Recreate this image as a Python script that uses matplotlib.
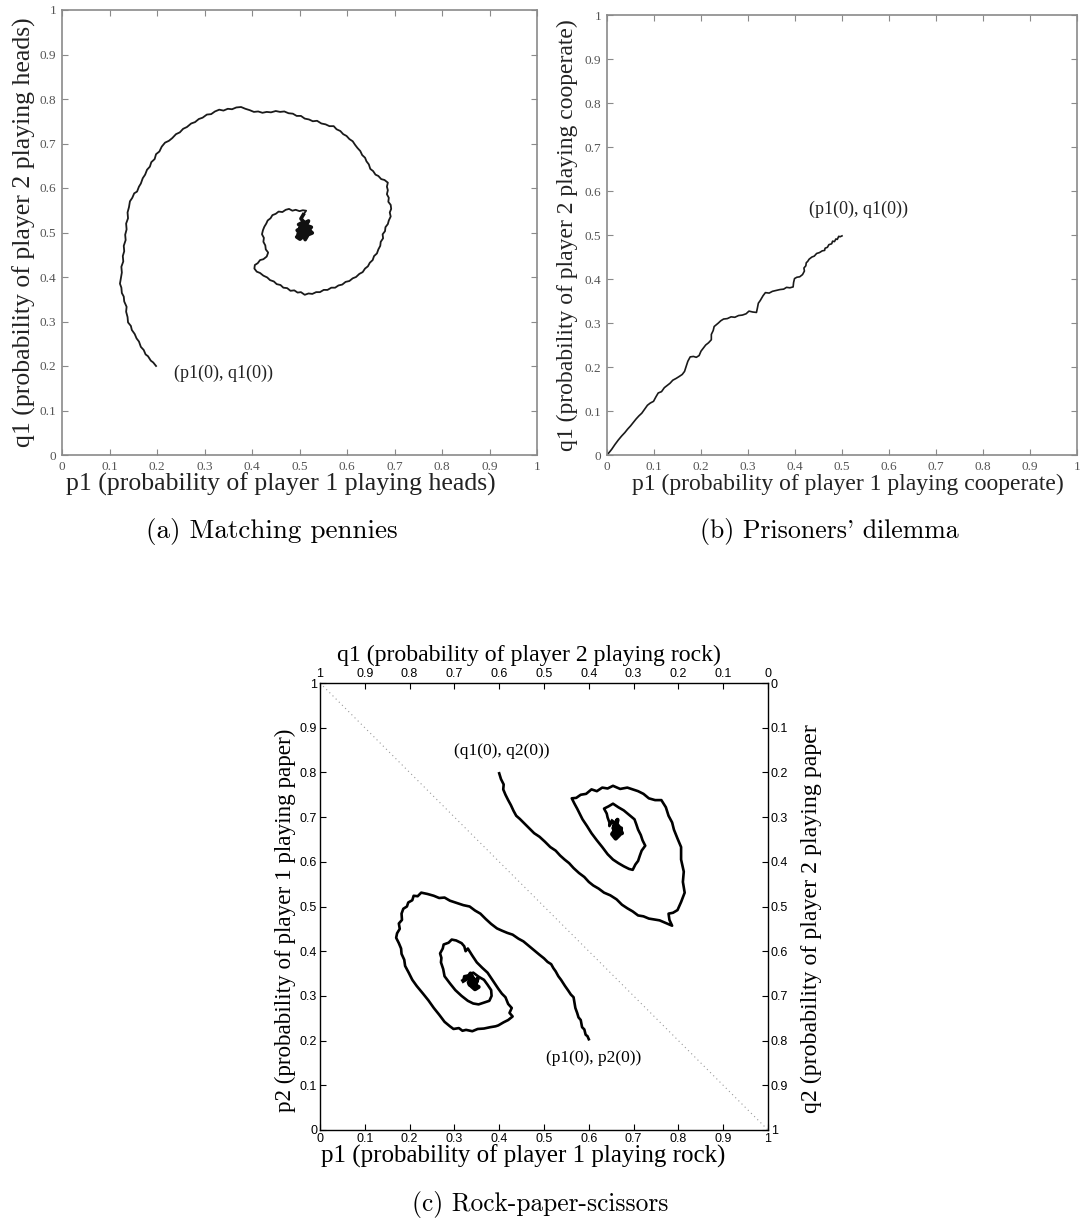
import matplotlib
matplotlib.use("Agg")
import matplotlib.pyplot as plt

# ---------------- data ----------------
# (a) Matching pennies trajectory (p1, q1)
mp_p1 = [0.198, 0.192, 0.187, 0.181, 0.176, 0.172, 0.166, 0.162, 0.157, 0.153, 0.147, 0.145, 0.139,
         0.138, 0.135, 0.136, 0.131, 0.130, 0.126, 0.125, 0.122, 0.124, 0.126, 0.125, 0.129, 0.128,
         0.131, 0.130, 0.134, 0.133, 0.136, 0.135, 0.139, 0.138, 0.141, 0.143, 0.148, 0.152, 0.158,
         0.162, 0.166, 0.170, 0.175, 0.179, 0.185, 0.188, 0.195, 0.198, 0.205, 0.210, 0.217, 0.225,
         0.232, 0.240, 0.248, 0.255, 0.263, 0.272, 0.280, 0.288, 0.296, 0.305, 0.314, 0.322, 0.331,
         0.340, 0.349, 0.358, 0.367, 0.377, 0.386, 0.395, 0.404, 0.413, 0.422, 0.431, 0.440, 0.450,
         0.459, 0.468, 0.477, 0.486, 0.494, 0.503, 0.511, 0.520, 0.528, 0.537, 0.546, 0.555, 0.563,
         0.572, 0.578, 0.586, 0.592, 0.599, 0.605, 0.612, 0.617, 0.622, 0.628, 0.632, 0.638, 0.641,
         0.646, 0.649, 0.655, 0.660, 0.666, 0.672, 0.679, 0.686, 0.684, 0.686, 0.684, 0.688, 0.687,
         0.692, 0.693, 0.690, 0.692, 0.688, 0.686, 0.681, 0.680, 0.675, 0.676, 0.671, 0.670, 0.666,
         0.663, 0.657, 0.654, 0.648, 0.644, 0.638, 0.633, 0.626, 0.619, 0.612, 0.605, 0.597, 0.590,
         0.582, 0.575, 0.567, 0.559, 0.551, 0.543, 0.535, 0.527, 0.519, 0.511, 0.503, 0.496, 0.489,
         0.481, 0.474, 0.466, 0.460, 0.452, 0.446, 0.438, 0.432, 0.424, 0.417, 0.410, 0.405, 0.406,
         0.412, 0.417, 0.424, 0.431, 0.434, 0.429, 0.428, 0.424, 0.425, 0.421, 0.423, 0.426, 0.430,
         0.433, 0.439, 0.443, 0.450, 0.456, 0.464, 0.471, 0.478, 0.485, 0.492, 0.500, 0.507, 0.514,
         0.508, 0.503, 0.509, 0.498, 0.507, 0.495, 0.503, 0.494, 0.501, 0.509, 0.512, 0.518, 0.527,
         0.520, 0.525, 0.514, 0.519, 0.510, 0.504, 0.515, 0.508, 0.499, 0.510, 0.517, 0.506, 0.497,
         0.504, 0.512, 0.522, 0.511, 0.502, 0.509]
mp_q1 = [0.200, 0.208, 0.212, 0.222, 0.226, 0.236, 0.243, 0.255, 0.262, 0.272, 0.281, 0.290, 0.298,
         0.310, 0.322, 0.333, 0.345, 0.356, 0.364, 0.376, 0.385, 0.397, 0.410, 0.423, 0.435, 0.447,
         0.458, 0.470, 0.483, 0.495, 0.507, 0.520, 0.532, 0.545, 0.557, 0.570, 0.578, 0.588, 0.592,
         0.603, 0.610, 0.622, 0.630, 0.641, 0.648, 0.658, 0.665, 0.676, 0.682, 0.693, 0.702, 0.706,
         0.712, 0.721, 0.725, 0.733, 0.737, 0.745, 0.748, 0.755, 0.758, 0.765, 0.766, 0.772, 0.776,
         0.774, 0.778, 0.777, 0.781, 0.782, 0.778, 0.775, 0.771, 0.772, 0.769, 0.771, 0.770, 0.773,
         0.771, 0.772, 0.768, 0.767, 0.762, 0.762, 0.756, 0.754, 0.750, 0.751, 0.745, 0.743, 0.739,
         0.739, 0.732, 0.728, 0.721, 0.717, 0.710, 0.705, 0.697, 0.690, 0.683, 0.674, 0.668, 0.660,
         0.653, 0.643, 0.638, 0.630, 0.627, 0.620, 0.618, 0.612, 0.603, 0.595, 0.586, 0.578, 0.569,
         0.562, 0.553, 0.545, 0.536, 0.527, 0.519, 0.512, 0.503, 0.496, 0.487, 0.479, 0.470, 0.462,
         0.453, 0.447, 0.438, 0.432, 0.424, 0.419, 0.411, 0.407, 0.400, 0.397, 0.391, 0.389, 0.383,
         0.381, 0.376, 0.376, 0.371, 0.371, 0.366, 0.366, 0.362, 0.363, 0.360, 0.366, 0.365, 0.370,
         0.369, 0.375, 0.376, 0.382, 0.384, 0.390, 0.393, 0.399, 0.403, 0.409, 0.412, 0.419, 0.427,
         0.431, 0.438, 0.440, 0.446, 0.455, 0.462, 0.471, 0.479, 0.488, 0.496, 0.505, 0.513, 0.520,
         0.527, 0.532, 0.539, 0.542, 0.547, 0.546, 0.551, 0.553, 0.549, 0.551, 0.548, 0.550, 0.549,
         0.540, 0.531, 0.524, 0.518, 0.512, 0.505, 0.497, 0.490, 0.485, 0.492, 0.484, 0.495, 0.499,
         0.506, 0.512, 0.516, 0.526, 0.521, 0.510, 0.503, 0.497, 0.500, 0.508, 0.500, 0.490, 0.496,
         0.518, 0.512, 0.503, 0.495, 0.503, 0.505]

# (b) Prisoners' dilemma trajectory (p1, q1)
pd_p1 = [0.500, 0.496, 0.493, 0.490, 0.487, 0.484, 0.480, 0.478, 0.472, 0.469, 0.464, 0.463, 0.458,
         0.452, 0.446, 0.441, 0.436, 0.430, 0.427, 0.424, 0.423, 0.419, 0.420, 0.416, 0.410, 0.404,
         0.399, 0.397, 0.396, 0.389, 0.382, 0.376, 0.368, 0.360, 0.352, 0.345, 0.337, 0.332, 0.326,
         0.322, 0.320, 0.318, 0.310, 0.302, 0.296, 0.288, 0.280, 0.272, 0.264, 0.256, 0.248, 0.242,
         0.237, 0.228, 0.226, 0.222, 0.222, 0.216, 0.210, 0.205, 0.200, 0.196, 0.190, 0.184, 0.177,
         0.172, 0.168, 0.165, 0.160, 0.153, 0.147, 0.140, 0.134, 0.128, 0.122, 0.116, 0.109, 0.104,
         0.099, 0.092, 0.086, 0.080, 0.074, 0.068, 0.062, 0.056, 0.050, 0.044, 0.038, 0.031, 0.024,
         0.017, 0.010, 0.004, 0.000]
pd_q1 = [0.498, 0.496, 0.497, 0.490, 0.491, 0.485, 0.486, 0.480, 0.478, 0.472, 0.470, 0.465, 0.464,
         0.460, 0.458, 0.452, 0.450, 0.445, 0.440, 0.437, 0.430, 0.425, 0.418, 0.410, 0.405, 0.404,
         0.401, 0.392, 0.382, 0.380, 0.381, 0.377, 0.376, 0.374, 0.372, 0.368, 0.369, 0.362, 0.351,
         0.345, 0.334, 0.324, 0.325, 0.327, 0.321, 0.318, 0.317, 0.313, 0.314, 0.310, 0.309, 0.305,
         0.300, 0.292, 0.283, 0.274, 0.262, 0.255, 0.250, 0.243, 0.236, 0.226, 0.222, 0.224, 0.223,
         0.213, 0.200, 0.190, 0.183, 0.178, 0.174, 0.170, 0.163, 0.158, 0.153, 0.144, 0.141, 0.132,
         0.122, 0.118, 0.113, 0.104, 0.095, 0.089, 0.082, 0.074, 0.066, 0.059, 0.051, 0.043, 0.034,
         0.024, 0.013, 0.005, 0.000]

# (c) Rock-paper-scissors, player 1 trajectory (p1, p2)
rps_p1 = [0.600, 0.597, 0.593, 0.590, 0.585, 0.582, 0.577, 0.574, 0.570, 0.568, 0.566, 0.560, 0.554,
          0.547, 0.538, 0.532, 0.526, 0.521, 0.516, 0.508, 0.500, 0.490, 0.478, 0.466, 0.454, 0.443,
          0.430, 0.418, 0.406, 0.395, 0.382, 0.370, 0.358, 0.346, 0.334, 0.320, 0.302, 0.290, 0.278,
          0.266, 0.254, 0.240, 0.226, 0.218, 0.209, 0.206, 0.197, 0.194, 0.186, 0.182, 0.183, 0.176,
          0.178, 0.172, 0.170, 0.176, 0.181, 0.182, 0.188, 0.190, 0.198, 0.206, 0.216, 0.230, 0.242,
          0.254, 0.266, 0.278, 0.290, 0.298, 0.310, 0.318, 0.326, 0.340, 0.352, 0.366, 0.380, 0.392,
          0.398, 0.410, 0.420, 0.430, 0.423, 0.428, 0.420, 0.414, 0.406, 0.398, 0.390, 0.382, 0.374,
          0.362, 0.350, 0.340, 0.330, 0.325, 0.322, 0.316, 0.304, 0.294, 0.287, 0.276, 0.274, 0.268,
          0.271, 0.270, 0.275, 0.278, 0.290, 0.302, 0.316, 0.330, 0.342, 0.354, 0.366, 0.378, 0.383,
          0.382, 0.374, 0.366, 0.354, 0.342, 0.332, 0.322, 0.320, 0.330, 0.336, 0.342, 0.350, 0.344,
          0.354, 0.346, 0.338, 0.332, 0.340, 0.348, 0.338, 0.334, 0.344, 0.352, 0.340]
rps_p2 = [0.203, 0.210, 0.213, 0.225, 0.230, 0.246, 0.252, 0.262, 0.273, 0.285, 0.297, 0.303, 0.312,
          0.322, 0.336, 0.344, 0.355, 0.362, 0.371, 0.376, 0.384, 0.392, 0.402, 0.412, 0.422, 0.428,
          0.437, 0.441, 0.446, 0.451, 0.461, 0.472, 0.484, 0.491, 0.500, 0.503, 0.509, 0.513, 0.520,
          0.519, 0.524, 0.528, 0.531, 0.523, 0.524, 0.514, 0.509, 0.500, 0.495, 0.484, 0.470, 0.462,
          0.450, 0.440, 0.430, 0.418, 0.406, 0.394, 0.381, 0.367, 0.352, 0.336, 0.322, 0.305, 0.290,
          0.273, 0.258, 0.242, 0.232, 0.226, 0.228, 0.222, 0.224, 0.221, 0.226, 0.227, 0.230, 0.232,
          0.234, 0.241, 0.246, 0.254, 0.262, 0.273, 0.282, 0.297, 0.305, 0.316, 0.328, 0.340, 0.352,
          0.363, 0.375, 0.390, 0.406, 0.400, 0.411, 0.418, 0.424, 0.426, 0.419, 0.415, 0.406, 0.395,
          0.385, 0.375, 0.360, 0.344, 0.328, 0.313, 0.300, 0.289, 0.283, 0.281, 0.285, 0.289, 0.300,
          0.313, 0.325, 0.336, 0.343, 0.352, 0.346, 0.344, 0.334, 0.340, 0.350, 0.338, 0.332, 0.325,
          0.320, 0.315, 0.322, 0.330, 0.335, 0.327, 0.342, 0.325, 0.330, 0.338, 0.328]

# (c) Rock-paper-scissors, player 2 trajectory (q1, q2)
rps_q1 = [0.600, 0.596, 0.590, 0.591, 0.586, 0.580, 0.574, 0.568, 0.562, 0.554, 0.546, 0.534, 0.522,
          0.510, 0.498, 0.486, 0.474, 0.464, 0.454, 0.444, 0.434, 0.422, 0.410, 0.400, 0.390, 0.378,
          0.366, 0.352, 0.338, 0.326, 0.314, 0.302, 0.290, 0.278, 0.266, 0.254, 0.242, 0.228, 0.214,
          0.220, 0.222, 0.212, 0.202, 0.194, 0.186, 0.190, 0.188, 0.194, 0.194, 0.202, 0.210, 0.214,
          0.222, 0.228, 0.238, 0.252, 0.266, 0.278, 0.290, 0.302, 0.314, 0.330, 0.346, 0.358, 0.370,
          0.382, 0.394, 0.406, 0.418, 0.428, 0.438, 0.432, 0.426, 0.420, 0.414, 0.404, 0.394, 0.382,
          0.370, 0.358, 0.346, 0.334, 0.322, 0.310, 0.302, 0.296, 0.290, 0.286, 0.282, 0.274, 0.280,
          0.284, 0.290, 0.294, 0.298, 0.310, 0.322, 0.334, 0.346, 0.356, 0.366, 0.360, 0.358, 0.354,
          0.354, 0.348, 0.340, 0.345, 0.335, 0.328, 0.332, 0.340, 0.348, 0.342, 0.334, 0.326, 0.338,
          0.344, 0.336, 0.340]
rps_q2 = [0.202, 0.215, 0.227, 0.238, 0.250, 0.262, 0.273, 0.286, 0.297, 0.304, 0.312, 0.324, 0.336,
          0.344, 0.355, 0.367, 0.375, 0.386, 0.395, 0.403, 0.414, 0.425, 0.434, 0.445, 0.453, 0.460,
          0.469, 0.475, 0.484, 0.496, 0.504, 0.511, 0.520, 0.522, 0.527, 0.529, 0.531, 0.537, 0.543,
          0.530, 0.516, 0.514, 0.508, 0.490, 0.469, 0.445, 0.422, 0.395, 0.367, 0.348, 0.328, 0.312,
          0.297, 0.278, 0.262, 0.262, 0.258, 0.248, 0.242, 0.238, 0.234, 0.237, 0.230, 0.236, 0.234,
          0.242, 0.238, 0.248, 0.250, 0.257, 0.258, 0.270, 0.281, 0.293, 0.305, 0.320, 0.336, 0.352,
          0.367, 0.383, 0.395, 0.403, 0.410, 0.416, 0.418, 0.406, 0.398, 0.386, 0.375, 0.364, 0.352,
          0.340, 0.328, 0.316, 0.305, 0.295, 0.285, 0.278, 0.270, 0.276, 0.281, 0.292, 0.301, 0.312,
          0.320, 0.310, 0.316, 0.325, 0.332, 0.325, 0.340, 0.348, 0.338, 0.330, 0.320, 0.336, 0.338,
          0.322, 0.306, 0.328]

diag_x = [0.0, 1.0]
diag_y = [1.0, 0.0]

ticks = [0, 0.1, 0.2, 0.3, 0.4, 0.5, 0.6, 0.7, 0.8, 0.9, 1]
tick_labels = ["0", "0.1", "0.2", "0.3", "0.4", "0.5", "0.6", "0.7", "0.8", "0.9", "1"]

# number of trailing points forming the dense cluster at each fixed point
mp_cluster_n = 32
rps1_cluster_n = 17
rps2_cluster_n = 15

# ---------------- figure ----------------
W, H = 1080, 1227
fig = plt.figure(figsize=(W / 100, H / 100), dpi=100)

SERIF = ["Liberation Serif", "DejaVu Serif"]
CM = ["cmr10", "DejaVu Serif"]
SANS = ["Liberation Sans", "DejaVu Sans"]
gray_axis = "#8a8a8a"
gray_text = "#555555"


def style_scan_axes(ax):
    ax.set_xlim(0, 1)
    ax.set_ylim(0, 1)
    ax.set_xticks(ticks)
    ax.set_yticks(ticks)
    ax.set_xticklabels(tick_labels, family=SERIF, fontsize=9.5, color=gray_text)
    ax.set_yticklabels(tick_labels, family=SERIF, fontsize=9.5, color=gray_text)
    ax.tick_params(direction="in", top=True, right=True, length=4, width=0.8,
                   color=gray_axis, pad=4)
    for s in ax.spines.values():
        s.set_color(gray_axis)
        s.set_linewidth(1.2)


def add_axes_px(x0, y0, x1, y1):
    return fig.add_axes([x0 / W, 1 - y1 / H, (x1 - x0) / W, (y1 - y0) / H])


# (a)
axa = add_axes_px(62, 10, 537, 455)
style_scan_axes(axa)
axa.plot(mp_p1, mp_q1, color="#1a1a1a", lw=1.3)
axa.plot(mp_p1[-mp_cluster_n:], mp_q1[-mp_cluster_n:], color="#111111", lw=2.6)
axa.set_xlabel("p1 (probability of player 1 playing heads)", family=SERIF, fontsize=18.5,
               color="#222222", labelpad=0)
axa.xaxis.label.set_x(0.461)
axa.set_ylabel("q1 (probability of player 2 playing heads)", family=SERIF, fontsize=18.5,
               color="#222222", labelpad=3)
axa.text(0.341, 0.183, "(p1(0), q1(0))", family=SERIF, fontsize=13, color="#222222",
         ha="center", va="center")

# (b)
axb = add_axes_px(607, 15, 1077, 455)
style_scan_axes(axb)
axb.plot(pd_p1, pd_q1, color="#1a1a1a", lw=1.2)
axb.set_xlabel("p1 (probability of player 1 playing cooperate)", family=SERIF, fontsize=17,
               color="#222222", labelpad=1)
axb.xaxis.label.set_x(0.513)
axb.set_ylabel("q1 (probability of player 2 playing cooperate)", family=SERIF, fontsize=17,
               color="#222222", labelpad=5)
axb.text(0.535, 0.559, "(p1(0), q1(0))", family=SERIF, fontsize=13, color="#222222",
         ha="center", va="center")

# (c)
axc = add_axes_px(320, 683, 768, 1130)
axc.set_xlim(0, 1)
axc.set_ylim(0, 1)
axc.set_xticks(ticks)
axc.set_yticks(ticks)
axc.set_xticklabels(tick_labels, family=SANS, fontsize=9)
axc.set_yticklabels(tick_labels, family=SANS, fontsize=9)
axc.tick_params(direction="in", length=4, width=0.8, pad=2)
for s in axc.spines.values():
    s.set_linewidth(1.0)
axc.plot(diag_x, diag_y, color="#999999", lw=0.8, linestyle=(0, (1, 3)))
axc.plot(rps_p1, rps_p2, color="black", lw=1.9)
axc.plot(rps_p1[-rps1_cluster_n:], rps_p2[-rps1_cluster_n:], color="black", lw=3.0)
axc.set_xlabel("p1 (probability of player 1 playing rock)", family=SERIF, fontsize=18,
               labelpad=0)
axc.xaxis.label.set_x(0.453)
axc.set_ylabel("p2 (probability of player 1 playing paper)", family=SERIF, fontsize=16.7,
               labelpad=3)
axc.yaxis.label.set_y(0.47)
axc.text(0.61, 0.16, "(p1(0), p2(0))", family=SERIF, fontsize=12.5, ha="center", va="center")

axq = fig.add_axes(axc.get_position(), frameon=False)
axq.set_xlim(1, 0)
axq.set_ylim(1, 0)
axq.xaxis.tick_top()
axq.xaxis.set_label_position("top")
axq.yaxis.tick_right()
axq.yaxis.set_label_position("right")
axq.set_xticks(ticks)
axq.set_yticks(ticks)
axq.set_xticklabels(tick_labels, family=SANS, fontsize=9)
axq.set_yticklabels(tick_labels, family=SANS, fontsize=9)
axq.tick_params(direction="in", length=4, width=0.8, pad=2)
axq.patch.set_visible(False)
axq.plot(rps_q1, rps_q2, color="black", lw=1.9)
axq.plot(rps_q1[-rps2_cluster_n:], rps_q2[-rps2_cluster_n:], color="black", lw=3.0)
axq.set_xlabel("q1 (probability of player 2 playing rock)", family=SERIF, fontsize=17.1,
               labelpad=5)
axq.xaxis.label.set_x(0.467)
axq.set_ylabel("q2 (probability of player 2 playing paper", family=SERIF, fontsize=17.2,
               labelpad=9, rotation=90)
axq.yaxis.label.set_y(0.472)
axq.text(0.594, 0.152, "(q1(0), q2(0))", family=SERIF, fontsize=12.5, ha="center", va="center")

# captions
fig.text(272 / W, 1 - 531 / H, "(a) Matching pennies", family=CM, fontsize=19.5,
         ha="center", va="center")
fig.text(829 / W, 1 - 531 / H, "(b) Prisoners' dilemma", family=CM, fontsize=18.6,
         ha="center", va="center")
fig.text(540 / W, 1 - 1205 / H, "(c) Rock-paper-scissors", family=CM, fontsize=18.3,
         ha="center", va="center")

fig.savefig("out.png", dpi=100, facecolor="white")
